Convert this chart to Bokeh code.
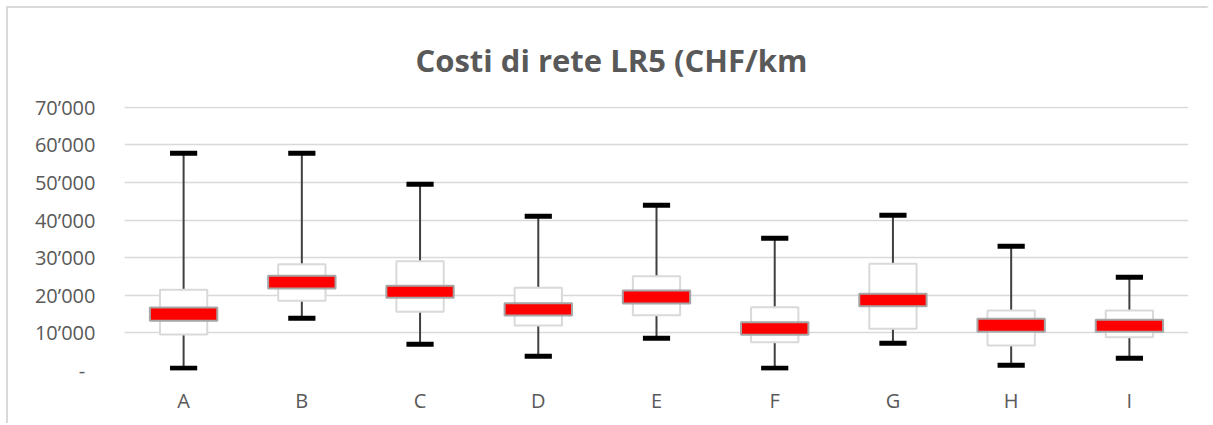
from bokeh.plotting import figure
from bokeh.models import FixedTicker, Title
from bokeh.embed import file_html
from bokeh.resources import INLINE

categories = ["A", "B", "C", "D", "E", "F", "G", "H", "I"]
whisker_low = [620, 13910, 7000, 3810, 8590, 620, 7270, 1420, 3280]
whisker_high = [57770, 57770, 49530, 41020, 43950, 35180, 41290, 33050, 24810]
box_low = [9570, 18520, 15590, 11960, 14710, 7530, 11080, 6650, 8860]
box_high = [21440, 28270, 29060, 21970, 25080, 16830, 28350, 15950, 15950]
red_low = [13200, 21800, 19320, 14620, 17810, 9480, 17100, 10280, 10280]
red_high = [16750, 25160, 22500, 17900, 21270, 12850, 20380, 13730, 13470]

tick_values = [0, 10000, 20000, 30000, 40000, 50000, 60000, 70000]
tick_labels = ["-\u00a0\u00a0", "10\u2019000", "20\u2019000", "30\u2019000", "40\u2019000",
               "50\u2019000", "60\u2019000", "70\u2019000"]
title_text = "Costi di rete LR5 (CHF/km"

FONT = "Open Sans"
GREY = "#595959"

p = figure(x_range=categories, y_range=(0, 70190), width=1203, height=417,
           output_backend="svg", toolbar_location=None,
           min_border_left=116, min_border_right=23, min_border_top=98,
           min_border_bottom=55)
p.styles = {"border-left": "2px solid #d9d9d9", "border-top": "2px solid #d9d9d9",
            "border-right": "2px solid white",
            "margin-left": "6px", "margin-top": "6px"}

t = Title(text=title_text, align="left", offset=291, text_font=FONT,
          text_font_size="31px", text_font_style="bold", text_color=GREY,
          standoff=52)
p.add_layout(t, "above")

p.outline_line_color = None
p.background_fill_color = "white"
p.border_fill_color = "white"
p.xgrid.grid_line_color = None
p.ygrid.grid_line_color = "#d9d9d9"
p.ygrid.grid_line_width = 1.5

p.yaxis.ticker = FixedTicker(ticks=tick_values)
p.yaxis.major_label_overrides = {v: s for v, s in zip(tick_values, tick_labels)}
for ax in (p.xaxis[0], p.yaxis[0]):
    ax.axis_line_color = None
    ax.major_tick_line_color = None
    ax.minor_tick_line_color = None
    ax.major_label_text_font = FONT
    ax.major_label_text_font_size = "20px"
    ax.major_label_text_color = GREY
p.yaxis.major_label_standoff = 23
p.xaxis.major_label_standoff = 10

p.segment(x0=categories, y0=box_high, x1=categories, y1=whisker_high,
          line_color="#404040", line_width=2)
p.segment(x0=categories, y0=whisker_low, x1=categories, y1=box_low,
          line_color="#404040", line_width=2)
p.vbar(x=categories, top=box_high, bottom=box_low, width=0.40,
       fill_color="white", line_color="#d9d9d9", line_width=2)
p.vbar(x=categories, top=red_high, bottom=red_low, width=0.57,
       fill_color="#ff0000", line_color="#a6a6a6", line_width=2)
p.rect(x=categories, y=whisker_high, width=0.23, height=5, height_units="screen",
       fill_color="black", line_color=None)
p.rect(x=categories, y=whisker_low, width=0.23, height=5, height_units="screen",
       fill_color="black", line_color=None)

open("out.html", "w").write(file_html(p, INLINE))
